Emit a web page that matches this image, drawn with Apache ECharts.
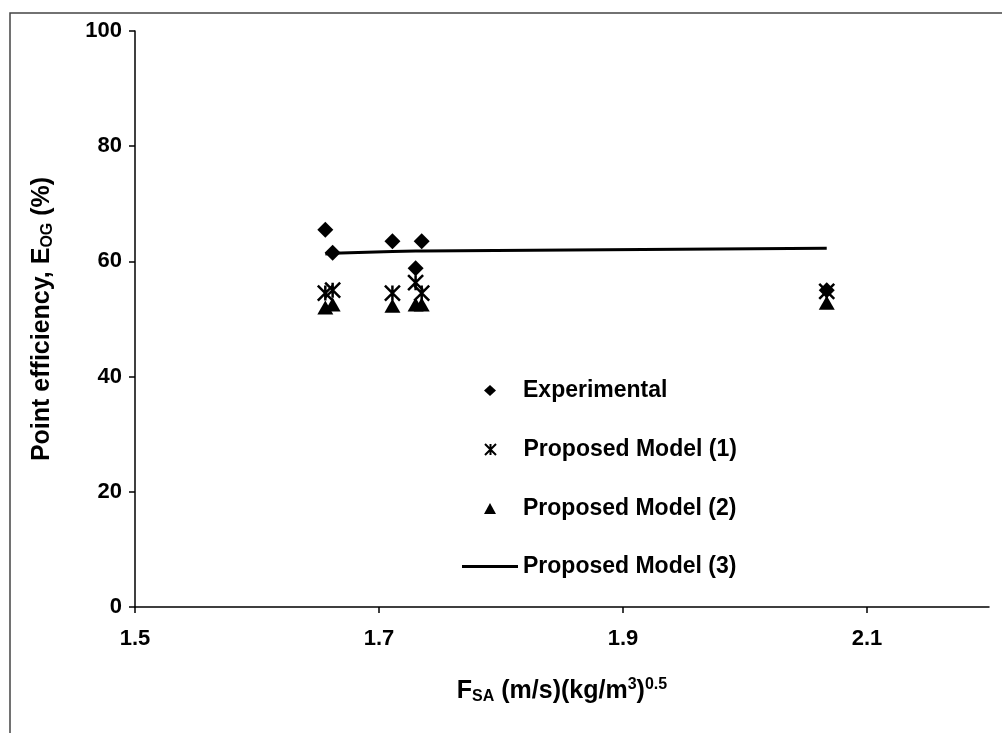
<!DOCTYPE html>
<html>
<head>
<meta charset="utf-8">
<script src="https://cdn.jsdelivr.net/npm/echarts@6/dist/echarts.min.js"></script>
<style>
html,body{margin:0;padding:0;background:#fff;}
#main{width:1002px;height:733px;}
</style>
</head>
<body>
<div id="main"></div>
<script>
// Data
const fsa = [1.656, 1.662, 1.711, 1.730, 1.735, 2.067];
const experimental = [65.5, 61.5, 63.5, 58.8, 63.5, 55.0];
const model1 = [54.5, 55.0, 54.5, 56.3, 54.5, 54.8];
const model2 = [52.0, 52.5, 52.3, 52.5, 52.5, 52.8];
const model3 = [61.3, 61.4, 61.7, 61.8, 61.8, 62.3];
const xTicks = [1.5, 1.7, 1.9, 2.1];
const seriesNames = ['Experimental', 'Proposed Model (1)', 'Proposed Model (2)', 'Proposed Model (3)'];

const pair = (ys) => fsa.map((x, i) => [x, ys[i]]);
const FONT = '"Liberation Sans", Arial, sans-serif';
const asterisk = 'path://M0,0 L10,10 M10,0 L0,10 M5,0 L5,10';

const legendText = {fontFamily: FONT, fontWeight: 'bold', fontSize: 23, color: '#000', lineHeight: 22};
const legendCenters = [390, 449, 508, 566];
function scatterLegend(i) {
  return {
    data: [seriesNames[i]], orient: 'vertical',
    left: 484, top: legendCenters[i] - 11,
    itemWidth: 12, itemHeight: 11, padding: 0,
    textStyle: Object.assign({padding: [0, 0, 0, 22]}, legendText)
  };
}

const chart = echarts.init(document.getElementById('main'), null, {renderer: 'canvas'});
chart.setOption({
  animation: false,
  backgroundColor: '#fff',
  textStyle: {fontFamily: FONT, color: '#000'},
  graphic: [{
    type: 'rect', silent: true, z: -1,
    shape: {x: 10, y: 13, width: 1100, height: 800},
    style: {fill: 'none', stroke: '#444', lineWidth: 1.5}
  }],
  grid: {left: 135, right: 13, top: 31, bottom: 126, containLabel: false, outerBoundsMode: 'none'},
  legend: [
    scatterLegend(0),
    scatterLegend(1),
    scatterLegend(2),
    {
      data: [seriesNames[3]], orient: 'vertical',
      left: 462, top: legendCenters[3] - 11,
      itemWidth: 56, itemHeight: 3, icon: 'rect', padding: 0,
      textStyle: legendText
    }
  ],
  xAxis: {
    type: 'value', min: 1.5, max: 2.2, interval: 0.2,
    splitLine: {show: false},
    axisLine: {lineStyle: {color: '#000', width: 1.5}},
    axisTick: {show: true, length: 6, lineStyle: {color: '#000', width: 1.5}, customValues: xTicks},
    axisLabel: {
      customValues: xTicks, margin: 21,
      fontFamily: FONT, fontWeight: 'bold', fontSize: 22, color: '#000',
      formatter: v => Number(v).toFixed(1)
    },
    name: '{n|F}{sub|SA}{n| (m/s)(kg/m}{sup|3}{n|)}{sup|0.5}',
    nameLocation: 'middle', nameGap: 70,
    nameTextStyle: {
      rich: {
        n: {fontFamily: FONT, fontWeight: 'bold', fontSize: 25, color: '#000', lineHeight: 28},
        sub: {fontFamily: FONT, fontWeight: 'bold', fontSize: 16, color: '#000', verticalAlign: 'bottom', lineHeight: 14},
        sup: {fontFamily: FONT, fontWeight: 'bold', fontSize: 16, color: '#000', verticalAlign: 'top', lineHeight: 12}
      }
    }
  },
  yAxis: {
    type: 'value', min: 0, max: 100, interval: 20,
    splitLine: {show: false},
    axisLine: {show: true, lineStyle: {color: '#000', width: 1.5}},
    axisTick: {show: true, length: 6, lineStyle: {color: '#000', width: 1.5}},
    axisLabel: {
      margin: 13, fontFamily: FONT, fontWeight: 'bold', fontSize: 22, color: '#000',
      formatter: v => String(v)
    },
    name: '{n|Point efficiency, E}{sub|OG}{n| (%)}',
    nameLocation: 'middle', nameGap: 79,
    nameTextStyle: {
      rich: {
        n: {fontFamily: FONT, fontWeight: 'bold', fontSize: 25, color: '#000', lineHeight: 28},
        sub: {fontFamily: FONT, fontWeight: 'bold', fontSize: 16, color: '#000', verticalAlign: 'bottom', lineHeight: 14}
      }
    }
  },
  series: [
    {
      name: seriesNames[3], type: 'line', data: pair(model3),
      symbol: 'none', z: 2,
      lineStyle: {color: '#000', width: 3},
      itemStyle: {color: '#000'}
    },
    {
      name: seriesNames[0], type: 'scatter', data: pair(experimental),
      symbol: 'diamond', symbolSize: 16, z: 3,
      itemStyle: {color: '#000', opacity: 1}
    },
    {
      name: seriesNames[1], type: 'scatter', data: pair(model1),
      symbol: asterisk, symbolSize: 15, z: 3,
      itemStyle: {color: '#000', borderColor: '#000', borderWidth: 2.5, opacity: 1}
    },
    {
      name: seriesNames[2], type: 'scatter', data: pair(model2),
      symbol: 'triangle', symbolSize: [16, 14], z: 3,
      itemStyle: {color: '#000', opacity: 1}
    }
  ]
});
</script>
</body>
</html>
